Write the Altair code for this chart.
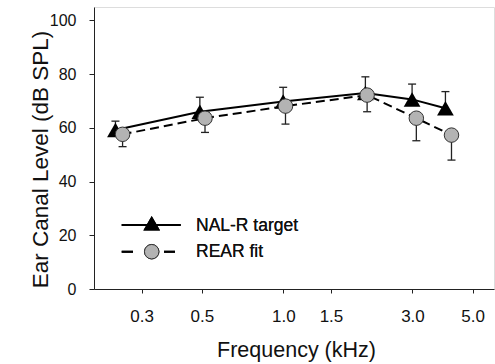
import altair as alt
import pandas as pd

# ---- data ----
nal_freq = [0.240, 0.492, 0.999, 2.01, 2.99, 3.97]
nal_level = [59.2, 66.0, 69.8, 73.0, 70.6, 67.3]
nal_upper = [62.5, 71.4, 75.1, 79.0, 76.3, 73.5]

rear_freq = [0.255, 0.514, 1.019, 2.04, 3.10, 4.18]
rear_level = [57.6, 63.6, 68.1, 72.2, 63.6, 57.3]
rear_lower = [53.0, 58.3, 61.4, 66.0, 55.2, 48.0]

x_ticks = [0.3, 0.5, 1.0, 1.5, 3.0, 5.0]
y_ticks = [0, 20, 40, 60, 80, 100]
legend_labels = ["NAL-R target", "REAR fit"]

FONT = "Liberation Sans, Arial, sans-serif"

nal = pd.DataFrame({"freq": nal_freq, "level": nal_level, "bar": nal_upper})
rear = pd.DataFrame({"freq": rear_freq, "level": rear_level, "bar": rear_lower})

xscale = alt.Scale(type="log", domain=[0.2, 6], nice=False)
yscale = alt.Scale(domain=[0, 105], nice=False)

xaxis = alt.Axis(values=x_ticks, format=".1f", title="Frequency (kHz)",
                 grid=False, tickSize=4, labelPadding=15, labelFontSize=17,
                 labelFont=FONT, labelColor="#111", titleFont=FONT,
                 titleFontSize=21.5, titleFontWeight="normal", titleColor="#111",
                 titleX=202, titleY=67.5, titleBaseline="alphabetic",
                 titleAlign="center", labelFlush=False, labelOverlap=False,
                 domainColor="#222", tickColor="#222")
yaxis = alt.Axis(values=y_ticks, title="Ear Canal Level (dB SPL)",
                 grid=False, tickSize=5, labelPadding=13, labelFontSize=16,
                 labelFont=FONT, labelColor="#111", titleFont=FONT,
                 titleFontSize=22.5, titleFontWeight="normal", titleColor="#111",
                 titleX=-47, titleY=152, titleAngle=-90,
                 titleBaseline="alphabetic", titleAlign="center",
                 domainColor="#222", tickColor="#222")

X = alt.X("freq:Q", scale=xscale, axis=xaxis)
Y = alt.Y("level:Q", scale=yscale, axis=yaxis)

def errbars(df):
    b = alt.Chart(df)
    rule = b.mark_rule(color="#222", strokeWidth=1.3).encode(
        x=alt.X("freq:Q", scale=xscale), y=alt.Y("level:Q", scale=yscale),
        y2="bar:Q")
    cap = b.mark_tick(orient="horizontal", size=8, thickness=1.3,
                      color="#222", opacity=1).encode(
        x=alt.X("freq:Q", scale=xscale), y=alt.Y("bar:Q", scale=yscale))
    return rule + cap

nal_line = alt.Chart(nal).mark_line(color="black", strokeWidth=2).encode(x=X, y=Y)
rear_line = alt.Chart(rear).mark_line(color="black", strokeWidth=2,
                                      strokeDash=[9, 5]).encode(
    x=alt.X("freq:Q", scale=xscale), y=alt.Y("level:Q", scale=yscale))

nal_pts = alt.Chart(nal).mark_point(shape="triangle-up", filled=True, size=280,
                                    color="black", opacity=1).encode(
    x=alt.X("freq:Q", scale=xscale), y=alt.Y("level:Q", scale=yscale))
rear_pts = alt.Chart(rear).mark_point(shape="circle", filled=True, size=210,
                                      fill="#b3b3b3", stroke="#333",
                                      strokeWidth=1, opacity=1,
                                      fillOpacity=1, strokeOpacity=1).encode(
    x=alt.X("freq:Q", scale=xscale), y=alt.Y("level:Q", scale=yscale))

# ---- hand-drawn legend inside the plot ----
leg_src = alt.Chart(pd.DataFrame({"label": legend_labels}))
leg1_line = leg_src.mark_rule(color="black", strokeWidth=2).encode(
    x=alt.value(27.7), x2=alt.value(86.7), y=alt.value(218))
leg1_sym = leg_src.mark_point(shape="triangle-up", filled=True, size=280,
                              color="black", opacity=1).encode(
    x=alt.value(57.7), y=alt.value(216.3))
leg2_line = leg_src.mark_rule(color="black", strokeWidth=2,
                              strokeDash=[11.3, 31, 11, 200]).encode(
    x=alt.value(27.7), x2=alt.value(81), y=alt.value(244.7))
leg2_sym = leg_src.mark_point(shape="circle", filled=True, size=210,
                              fill="#b3b3b3", stroke="#333", strokeWidth=1,
                              opacity=1).encode(
    x=alt.value(57.7), y=alt.value(244.7))
leg1_txt = leg_src.mark_text(align="left", baseline="middle", fontSize=17.5,
                             font=FONT, color="#111").encode(
    x=alt.value(102), y=alt.value(218.5), text=alt.value(legend_labels[0]))
leg2_txt = leg_src.mark_text(align="left", baseline="middle", fontSize=17.5,
                             font=FONT, color="#111").encode(
    x=alt.value(102), y=alt.value(245), text=alt.value(legend_labels[1]))

chart = alt.layer(
    errbars(nal), errbars(rear), nal_line, rear_line, nal_pts, rear_pts,
    leg1_line, leg2_line, leg1_sym, leg2_sym, leg1_txt, leg2_txt,
).properties(
    width=400, height=282,
    autosize=alt.AutoSizeParams(type="none"),
    padding={"left": 94, "top": 7, "right": 1, "bottom": 75},
).configure_view(stroke=None).configure(background="white")

chart.save("out.html", embed_options={"renderer": "svg", "actions": False})
